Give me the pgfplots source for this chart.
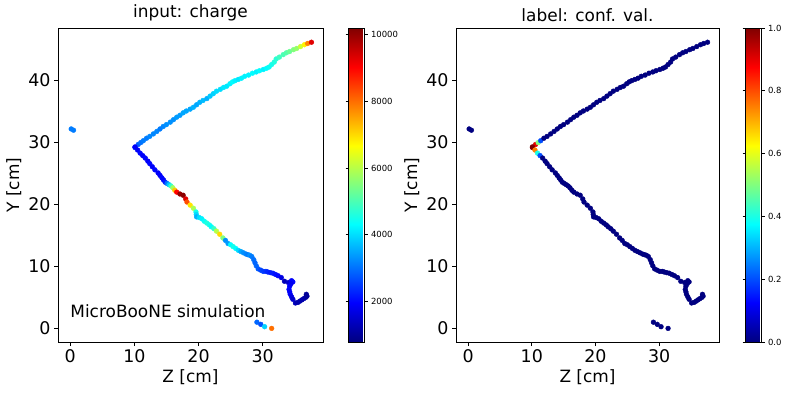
\documentclass[border=0pt]{standalone}
\usepackage{fontspec}
\setmainfont{DejaVu Sans}
\usepackage{pgfplots}
\usepackage{pgfplotstable}
\pgfplotsset{compat=1.18}

% z [cm], y [cm], charge, confidence
\pgfplotstableread{
z y q c
0.16 32.2 3100 0
0.52 32.0 3100 0
10.1 29.2 2300 1.0
10.6 29.7 2800 0.9
11.0 30.0 3000 0.5
11.4 30.3 3100 0.2
11.9 30.7 3100 0
12.4 31.0 3200 0
12.96 31.4 3200 0
13.5 31.8 3200 0
14.0 32.2 3100 0
14.5 32.6 3200 0
15.0 32.9 3300 0
15.6 33.3 3300 0
16.1 33.7 3300 0
16.6 34.1 3400 0
17.1 34.4 3400 0
17.6 34.8 3500 0
18.1 35.1 3500 0
18.7 35.4 3500 0
19.2 35.7 3600 0
19.7 36.1 3500 0
20.2 36.5 3600 0
20.7 36.8 3700 0
21.3 37.1 3600 0
21.8 37.5 3800 0
22.3 37.9 3900 0
22.8 38.3 4000 0
23.4 38.6 4000 0
23.9 38.9 4100 0
24.4 39.1 4100 0
24.9 39.5 4200 0
25.3 39.8 4300 0
25.7 40.0 4200 0
26.2 40.2 4100 0
26.7 40.4 4200 0
27.2 40.7 4200 0
27.8 40.9 4200 0
28.4 41.2 4300 0
29.0 41.4 4200 0
29.5 41.6 4300 0
30.1 41.8 4200 0
30.6 42.0 4300 0
31.0 42.2 4400 0
31.4 42.6 4500 0
31.8 43.0 4600 0
32.1 43.5 4700 0
32.6 43.8 4900 0
33.2 44.2 5000 0
33.7 44.5 5100 0
34.2 44.7 5300 0
34.8 45.0 5500 0
35.3 45.2 5700 0
35.9 45.5 6200 0
36.5 45.8 6800 0
37.0 46.0 7800 0
37.6 46.2 9300 0
10.1 29.3 1900 1.0
10.5 28.8 1900 0.75
10.9 28.3 2000 0.4
11.3 27.9 1900 0.2
11.7 27.5 2000 0
12.1 27.0 1900 0
12.4 26.6 2000 0
12.8 26.1 1900 0
13.2 25.6 2000 0
13.7 25.1 1900 0
14.0 24.7 1900 0
14.3 24.3 2000 0
14.55 23.95 2000 0
14.8 23.6 2200 0
15.1 23.4 3000 0
15.4 23.2 3800 0
15.7 23.0 4800 0
16.0 22.7 5800 0
16.3 22.3 7200 0
16.6 22.0 9000 0
17.1 21.7 10000 0
17.6 21.5 10100 0
18.0 20.9 9300 0
18.2 20.4 8300 0
18.7 19.9 6900 0
19.2 19.4 5900 0
19.6 18.8 4500 0
19.65 18.4 4000 0
19.7 18.0 3600 0
20.1 17.9 4000 0
20.5 17.7 4200 0
20.9 17.3 4400 0
21.3 17.0 4600 0
21.7 16.7 4500 0
22.0 16.4 4300 0
22.4 16.1 4800 0
22.8 15.7 6000 0
23.3 15.2 7000 0
23.8 14.6 5500 0
24.2 14.2 3300 0
24.6 13.7 3400 0
25.0 13.5 4300 0
25.4 13.2 4500 0
25.8 12.9 4300 0
26.2 12.6 4000 0
26.6 12.4 3500 0
27.0 12.2 3300 0
27.4 12.0 3200 0
27.7 11.9 3100 0
28.0 11.8 3300 0
28.3 11.6 3100 0
28.6 11.1 3000 0
28.8 10.6 2900 0
29.0 10.1 2900 0
29.3 9.6 2800 0
29.7 9.4 2600 0
30.1 9.2 2500 0
30.5 9.2 2400 0
30.8 9.1 2300 0
31.2 9.0 2200 0
31.6 8.9 2200 0
32.0 8.7 2100 0
32.4 8.5 2000 0
32.9 8.2 1700 0
33.4 7.6 1300 0
34.0 7.4 1500 0
34.5 7.7 1900 0
34.7 7.5 2000 0
34.4 7.2 1800 0
34.2 6.8 1900 0
34.1 6.3 2000 0
34.2 5.9 1900 0
34.3 5.5 1900 0
34.5 5.1 1700 0
34.7 4.7 1500 0
35.1 4.1 1300 0
35.5 4.2 1200 0
35.8 4.4 1200 0
36.1 4.6 1200 0
36.4 4.8 1200 0
36.7 5.0 1100 0
36.9 5.2 1000 0
36.8 5.5 1000 0
29.1 1.0 2900 0
29.7 0.65 2700 0
30.3 0.27 3900 0
31.4 0.0 8000 0
}\track

\pgfplotsset{
  trackaxis/.style={
    scale only axis, height=314bp,
    xmin=-1.9, xmax=39.4, ymin=-2.2, ymax=48.5,
    xtick={0,10,20,30}, ytick={0,10,20,30,40},
    tick align=outside, tick pos=left, major tick length=4bp,
    tick style={black, line width=0.8bp},
    ticklabel style={font=\fontsize{17.5}{20}\selectfont},
    /pgf/number format/assume math mode=true,
    xlabel={Z [cm]}, ylabel={Y [cm]},
    label style={font=\fontsize{17}{20}\selectfont},
    title style={font=\fontsize{17}{20}\selectfont, yshift=-3bp},
    axis line style={black, line width=0.8bp},
    colormap/jet,
    colorbar,
  },
  cbar/.style={
    at={(parent axis.south east)}, anchor=south west,
    scale only axis, width=16bp,
    tick align=outside, major tick length=3bp,
    tick style={black, line width=0.6bp},
    axis line style={black, line width=0.8bp},
    yticklabel style={font=\fontsize{8.5}{10}\selectfont},
    /pgf/number format/assume math mode=true,
  },
  dots/.style={scatter, only marks, mark=*, mark size=2.4bp, scatter src=explicit,
    scatter/use mapped color={draw=mapped color, fill=mapped color}},
}

\begin{document}
\begin{tikzpicture}[x=1bp, y=1bp]
\useasboundingbox (0,0) rectangle (796,398);

\begin{axis}[trackaxis, at={(58bp,56bp)}, anchor=south west, width=265bp,
    title={input: charge},
    point meta min=780, point meta max=10200,
    colorbar style={cbar, xshift=17bp,
      ytick={2000,4000,6000,8000,10000}, scaled y ticks=false,
      yticklabel style={/pgf/number format/1000 sep={}}}]
  \addplot[dots] table[x=z, y=y, meta=q] {\track};
  \node[anchor=base west, inner sep=0pt, font=\fontsize{17}{20}\selectfont]
    at (axis cs:0.0,1.8) {MicroBooNE simulation};
\end{axis}

\begin{axis}[trackaxis, at={(456bp,56bp)}, anchor=south west, width=263bp,
    title={label: conf. val.},
    point meta min=0, point meta max=1,
    colorbar style={cbar, xshift=18bp,
      ytick={0,0.2,0.4,0.6,0.8,1.0},
      yticklabel style={/pgf/number format/.cd, fixed, fixed zerofill, precision=1}}]
  \addplot[dots] table[x=z, y=y, meta=c] {\track};
\end{axis}
\end{tikzpicture}
\end{document}
